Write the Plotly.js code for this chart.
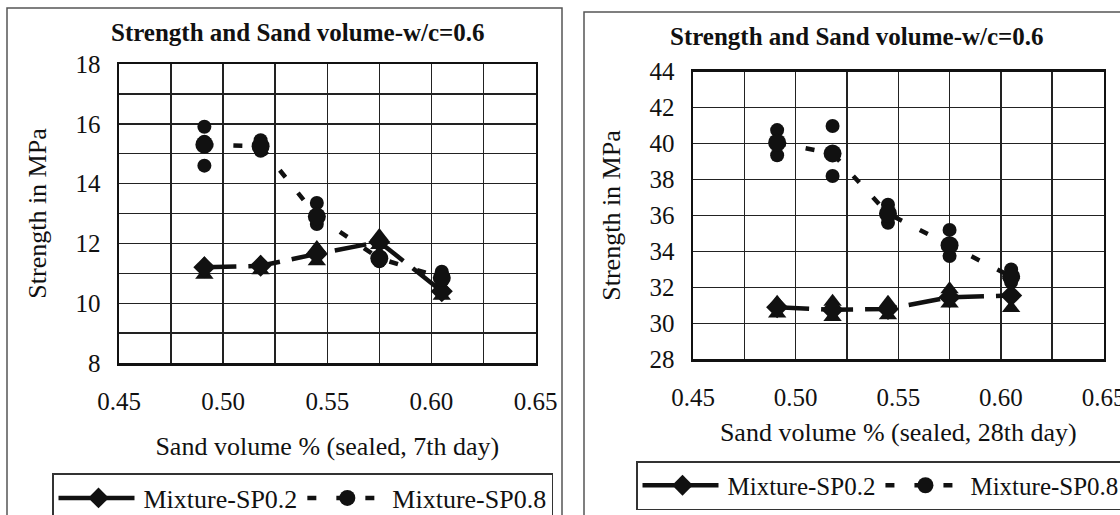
<!DOCTYPE html>
<html>
<head>
<meta charset="utf-8">
<script src="https://cdn.plot.ly/plotly-3.0.1.min.js"></script>
<style>html,body{margin:0;padding:0;background:#fff;width:1120px;height:515px;overflow:hidden;}#chart{width:1120px;height:515px;overflow:hidden;}</style>
</head>
<body>
<div id="chart"></div>
<script>
// ---- data ----
const sandVolume = [0.491, 0.518, 0.545, 0.575, 0.605];

// 7th day (left panel)
const day7_SP02_mean = [11.2, 11.25, 11.65, 12.05, 10.4];
const day7_SP08_mean = [15.3, 15.25, 12.9, 11.5, 10.85];
const day7_SP02_repX = [0.491, 0.491, 0.518, 0.518, 0.545, 0.545, 0.575, 0.575, 0.605, 0.605];
const day7_SP02_repY = [11.3, 10.95, 11.35, 11.1, 11.85, 11.4, 12.25, 11.95, 10.55, 10.25];
const day7_SP08_repX = [0.491, 0.491, 0.491, 0.518, 0.518, 0.545, 0.545, 0.575, 0.575, 0.605, 0.605];
const day7_SP08_repY = [15.9, 15.4, 14.6, 15.45, 15.1, 13.35, 12.65, 11.55, 11.4, 11.05, 10.75];

// 28th day (right panel)
const day28_SP02_mean = [30.9, 30.75, 30.8, 31.45, 31.55];
const day28_SP08_mean = [40.05, 39.45, 36.1, 34.35, 32.6];
const day28_SP02_repX = [0.491, 0.491, 0.518, 0.518, 0.545, 0.545, 0.575, 0.575, 0.605, 0.605];
const day28_SP02_repY = [31.15, 30.55, 31.2, 30.35, 31.15, 30.45, 31.9, 31.1, 32.7, 30.85];
const day28_SP08_repX = [0.491, 0.491, 0.518, 0.518, 0.545, 0.545, 0.575, 0.575, 0.605, 0.605];
const day28_SP08_repY = [40.75, 39.35, 40.98, 38.2, 36.6, 35.6, 35.2, 33.75, 33.0, 32.3];

const seriesNames = ['Mixture-SP0.2', 'Mixture-SP0.8'];
const chartTitle = 'Strength and Sand volume-w/c=0.6';
const yTitle = 'Strength in MPa';
const xTitles = ['Sand volume % (sealed, 7th day)', 'Sand volume % (sealed, 28th day)'];

// ---- styles ----
const FONT = 'Liberation Serif, Times New Roman, serif';
const INK = '#111';
const sp02Line = {color: INK, width: 4.5, dash: '32px,12px'};
const sp08Line = {color: INK, width: 4.5, dash: '9px,20px'};

function panel(xa, ya, legendId, sp02m, sp08m, sp02rx, sp02ry, sp08rx, sp08ry) {
  return [
    {x: sp02rx, y: sp02ry, xaxis: xa, yaxis: ya, mode: 'markers', type: 'scatter', showlegend: false,
     marker: {symbol: 'triangle-up', size: 16, color: INK}, hoverinfo: 'skip'},
    {x: sp08rx, y: sp08ry, xaxis: xa, yaxis: ya, mode: 'markers', type: 'scatter', showlegend: false,
     marker: {symbol: 'circle', size: 14, color: INK}, hoverinfo: 'skip'},
    {x: sandVolume, y: sp02m, xaxis: xa, yaxis: ya, mode: 'lines+markers', type: 'scatter',
     name: seriesNames[0], legend: legendId, line: sp02Line,
     marker: {symbol: 'diamond', size: 17, color: INK}},
    {x: sandVolume, y: sp08m, xaxis: xa, yaxis: ya, mode: 'lines+markers', type: 'scatter',
     name: seriesNames[1], legend: legendId, line: sp08Line,
     marker: {symbol: 'circle', size: 18, color: INK}}
  ];
}

const data = [
  ...panel('x', 'y', 'legend', day7_SP02_mean, day7_SP08_mean, day7_SP02_repX, day7_SP02_repY, day7_SP08_repX, day7_SP08_repY),
  ...panel('x2', 'y2', 'legend2', day28_SP02_mean, day28_SP08_mean, day28_SP02_repX, day28_SP02_repY, day28_SP08_repX, day28_SP08_repY)
];

const W = 1120, H = 515;
const px = v => v / W;
const py = v => 1 - v / H;

function xAxis(domain, anchor, title, labelStandoff, titleStandoff) {
  return {
    domain: domain, anchor: anchor, range: [0.45, 0.65], tick0: 0.45, dtick: 0.05, tickformat: '.2f',
    showgrid: true, gridcolor: '#222', gridwidth: 1.4,
    minor: {dtick: 0.025, showgrid: true, gridcolor: '#222', gridwidth: 1.4, ticks: ''},
    zeroline: false, showline: true, mirror: true, linecolor: INK, linewidth: 2.5,
    ticks: '', ticklabelstandoff: labelStandoff, ticklabeloverflow: 'allow',
    tickfont: {family: FONT, size: 25, color: INK},
    title: {text: title, font: {family: FONT, size: 26, color: INK}, standoff: titleStandoff},
    automargin: false, fixedrange: true
  };
}
function yAxis(domain, anchor, range, minorDtick, title) {
  const ax = {
    domain: domain, anchor: anchor, range: range, dtick: 2,
    showgrid: true, gridcolor: '#222', gridwidth: 1.4,
    zeroline: false, showline: true, mirror: true, linecolor: INK, linewidth: 2.5,
    ticks: '', ticklabelstandoff: 11,
    tickfont: {family: FONT, size: 25, color: INK},
    title: {text: title, font: {family: FONT, size: 26, color: INK}, standoff: 22},
    automargin: false, fixedrange: true
  };
  if (minorDtick) ax.minor = {dtick: minorDtick, showgrid: true, gridcolor: '#222', gridwidth: 1.4, ticks: ''};
  return ax;
}

const legendBase = {
  orientation: 'h', xanchor: 'left', yanchor: 'top',
  bordercolor: '#333', borderwidth: 1.5, bgcolor: '#fff',
  itemwidth: 80, tracegroupgap: 0
};

const layout = {
  width: W, height: H, margin: {l: 0, r: 0, t: 0, b: 0, autoexpand: false},
  paper_bgcolor: '#fff', plot_bgcolor: '#fff',
  showlegend: true,
  xaxis: xAxis([px(119), px(535.5)], 'y', xTitles[0], 14, 24),
  yaxis: yAxis([py(363), py(64)], 'x', [8, 18], 1, yTitle),
  xaxis2: xAxis([px(693), px(1103.5)], 'y2', xTitles[1], 14, 13),
  yaxis2: yAxis([py(359.3), py(71.7)], 'x2', [28, 44], null, yTitle),
  legend: Object.assign({}, legendBase, {x: px(52), y: py(473), font: {family: FONT, size: 26, color: INK}}),
  legend2: Object.assign({}, legendBase, {x: px(636), y: py(461), font: {family: FONT, size: 25, color: INK}}),
  annotations: [
    {text: '<b>' + chartTitle + '</b>', xref: 'paper', yref: 'paper', x: px(298), y: py(32),
     xanchor: 'center', yanchor: 'middle', showarrow: false, font: {family: FONT, size: 25, color: INK}},
    {text: '<b>' + chartTitle + '</b>', xref: 'paper', yref: 'paper', x: px(856.5), y: py(36.7),
     xanchor: 'center', yanchor: 'middle', showarrow: false, font: {family: FONT, size: 25, color: INK}}
  ],
  shapes: [
    {type: 'rect', xref: 'paper', yref: 'paper', x0: px(7), x1: px(562), y0: -0.1, y1: py(8),
     line: {color: '#555', width: 1.5}, layer: 'below'},
    {type: 'rect', xref: 'paper', yref: 'paper', x0: px(584), x1: 1.1, y0: -0.1, y1: py(12),
     line: {color: '#555', width: 1.5}, layer: 'below'}
  ]
};

Plotly.newPlot('chart', data, layout, {staticPlot: true, displayModeBar: false});
</script>
</body>
</html>
